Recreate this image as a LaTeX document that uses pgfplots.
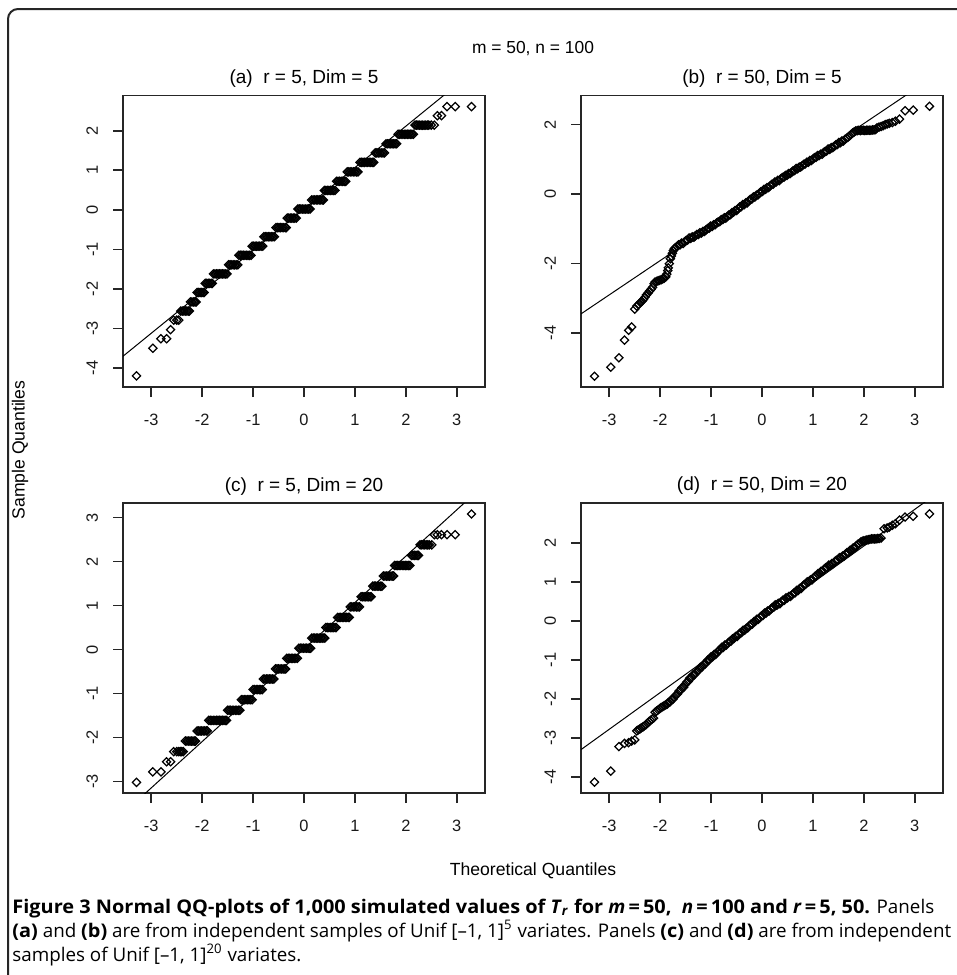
\documentclass[border=0pt]{standalone}
\usepackage{fontspec}
\setmainfont{Liberation Sans}
\newfontfamily\capfont{Open Sans}[BoldFeatures={FakeStretch=1.06}]
\usepackage{pgfplots}
\pgfplotsset{compat=1.18}
\pgfplotsset{
  qq/.style={
    scale only axis, width=181pt, anchor=south west,
    xmin=-3.555, xmax=3.555,
    xtick={-3,...,3}, xticklabels={-3,-2,-1,0,1,2,3},
    tick pos=left, tick align=outside,
    major tick length=5pt,
    axis line style={line width=0.8pt, black!85},
    tick style={line width=0.8pt, black!85},
    tick label style={font=\fontsize{8.2}{9}\selectfont, black!90},
    xticklabel style={yshift=-5pt},
    yticklabel style={xshift=-4pt, rotate=90, anchor=south},
    title style={at={(0.5,1)}, anchor=base, yshift=0pt, font=\fontsize{9.5}{11}\selectfont},
  },
  pts/.style={only marks, mark=square, mark size=1.45pt, black, mark options={rotate=45, line width=0.62pt}},
  qline/.style={black, line width=0.5pt, no marks},
}
\begin{document}
\begin{tikzpicture}
\begin{scope}[x=0.5pt,y=-0.5pt]
\path[use as bounding box] (0,0) rectangle (957,975);
\draw[line width=1pt, black!85, rounded corners=5pt] (8,975) -- (8,9) -- (957,9);
\node[font=\fontsize{8.7}{10}\selectfont, anchor=base] at (533,53) {m = 50, n = 100};
\node[font=\fontsize{8.8}{10}\selectfont, rotate=90] at (20,450) {Sample Quantiles};
\node[font=\fontsize{8.8}{10}\selectfont, anchor=base] at (533,875) {Theoretical Quantiles};
\node[font=\capfont\fontsize{9.4}{10}\selectfont, anchor=base west, inner sep=0pt] at (12,913)
  {\textbf{Figure 3 Normal QQ-plots of 1,000 simulated values of \textit{T}\textsubscript{\textit{r}} for \textit{m}\,=\,50,~ \textit{n}\,=\,100 and \textit{r}\,=\,5, 50.} Panels};
\node[font=\capfont\fontsize{9.4}{10}\selectfont, anchor=base west, inner sep=0pt] at (12,937)
  {\textbf{(a)} and \textbf{(b)} are from independent samples of Unif [\textendash1, 1]\textsuperscript{5} variates. Panels \textbf{(c)} and \textbf{(d)} are from independent};
\node[font=\capfont\fontsize{9.4}{10}\selectfont, anchor=base west, inner sep=0pt] at (12,961)
  {samples of Unif [\textendash1, 1]\textsuperscript{20} variates.};
\end{scope}

% ---------------- (a)
\begin{axis}[qq, at={(61.5pt,-193.5pt)}, height=145.75pt, ymin=-4.48, ymax=2.89,
  ytick={-4,...,2}, yticklabels={-4,-3,-2,-1,0,1,2}, title={(a)\ \ r = 5, Dim = 5}]
\addplot[pts] coordinates {
(-3.29,-4.20) (-2.97,-3.50) (-2.81,-3.26) (-2.70,-3.26) (-2.62,-3.03)
(-2.56,-2.79) (-2.50,-2.79) (-2.46,-2.79)
(-2.42,-2.56) (-2.39,-2.56) (-2.36,-2.56) (-2.33,-2.56) (-2.30,-2.56) (-2.27,-2.56) (-2.25,-2.56)
(-2.23,-2.33) (-2.20,-2.33) (-2.17,-2.33) (-2.14,-2.33) (-2.12,-2.33)
(-2.10,-2.09) (-2.07,-2.09) (-2.04,-2.09) (-2.01,-2.09) (-1.98,-2.09) (-1.96,-2.09)
(-1.94,-1.86) (-1.91,-1.86) (-1.88,-1.86) (-1.85,-1.86) (-1.82,-1.86) (-1.80,-1.86)
(-1.78,-1.62) (-1.75,-1.62) (-1.72,-1.62) (-1.69,-1.62) (-1.66,-1.62) (-1.63,-1.62) (-1.60,-1.62) (-1.57,-1.62) (-1.54,-1.62) (-1.51,-1.62)
(-1.48,-1.39) (-1.45,-1.39) (-1.42,-1.39) (-1.39,-1.39) (-1.36,-1.39) (-1.33,-1.39) (-1.30,-1.39)
(-1.28,-1.15) (-1.25,-1.15) (-1.22,-1.15) (-1.19,-1.15) (-1.16,-1.15) (-1.13,-1.15) (-1.10,-1.15) (-1.07,-1.15) (-1.04,-1.15)
(-1.02,-0.92) (-0.99,-0.92) (-0.96,-0.92) (-0.93,-0.92) (-0.90,-0.92) (-0.87,-0.92) (-0.84,-0.92) (-0.81,-0.92)
(-0.79,-0.68) (-0.76,-0.68) (-0.73,-0.68) (-0.70,-0.68) (-0.67,-0.68) (-0.64,-0.68) (-0.61,-0.68) (-0.58,-0.68)
(-0.55,-0.45) (-0.52,-0.45) (-0.49,-0.45) (-0.46,-0.45) (-0.43,-0.45) (-0.40,-0.45) (-0.37,-0.45) (-0.35,-0.45)
(-0.33,-0.21) (-0.30,-0.21) (-0.27,-0.21) (-0.24,-0.21) (-0.21,-0.21) (-0.18,-0.21) (-0.15,-0.21)
(-0.12,0.02) (-0.09,0.02) (-0.06,0.02) (-0.03,0.02) (0,0.02) (0.03,0.02) (0.06,0.02) (0.09,0.02) (0.12,0.02)
(0.15,0.25) (0.18,0.25) (0.21,0.25) (0.24,0.25) (0.27,0.25) (0.30,0.25) (0.33,0.25) (0.36,0.25) (0.38,0.25)
(0.40,0.49) (0.43,0.49) (0.46,0.49) (0.49,0.49) (0.52,0.49) (0.55,0.49) (0.58,0.49) (0.61,0.49)
(0.64,0.72) (0.67,0.72) (0.70,0.72) (0.73,0.72) (0.76,0.72) (0.79,0.72) (0.82,0.72)
(0.85,0.96) (0.88,0.96) (0.91,0.96) (0.94,0.96) (0.97,0.96) (1.00,0.96) (1.03,0.96) (1.06,0.96)
(1.10,1.20) (1.13,1.20) (1.16,1.20) (1.19,1.20) (1.22,1.20) (1.25,1.20) (1.28,1.20) (1.31,1.20) (1.34,1.20) (1.37,1.20)
(1.40,1.44) (1.43,1.44) (1.46,1.44) (1.49,1.44) (1.52,1.44) (1.55,1.44) (1.58,1.44)
(1.61,1.67) (1.64,1.67) (1.67,1.67) (1.70,1.67) (1.73,1.67) (1.76,1.67) (1.79,1.67) (1.82,1.67)
(1.85,1.91) (1.88,1.91) (1.91,1.91) (1.94,1.91) (1.97,1.91) (2.00,1.91) (2.03,1.91) (2.06,1.91) (2.09,1.91) (2.12,1.91) (2.15,1.91)
(2.18,2.14) (2.21,2.14) (2.24,2.14) (2.27,2.14) (2.30,2.14) (2.33,2.14) (2.36,2.14) (2.39,2.14) (2.42,2.14) (2.45,2.14) (2.50,2.14) (2.56,2.14)
(2.62,2.38) (2.70,2.38) (2.81,2.61) (2.97,2.61) (3.29,2.61)
};
\addplot[qline] coordinates {(-4,-4.168) (4,4.208)};
\end{axis}

% ---------------- (b)
\begin{axis}[qq, at={(290.5pt,-193.5pt)}, height=145.75pt, ymin=-5.55, ymax=2.84,
  ytick={-4,-2,0,2}, yticklabels={-4,-2,0,2}, title={(b)\ \ r = 50, Dim = 5}]
\addplot[pts] coordinates {
(-3.29,-5.24) (-2.97,-4.98) (-2.81,-4.71) (-2.70,-4.20) (-2.62,-3.92) (-2.56,-3.82) (-2.50,-3.31)
(-2.46,-3.22) (-2.42,-3.17) (-2.39,-3.12) (-2.36,-3.08) (-2.33,-3.03) (-2.30,-2.97) (-2.27,-2.90)
(-2.24,-2.85) (-2.21,-2.79) (-2.18,-2.74) (-2.15,-2.68) (-2.12,-2.58) (-2.10,-2.53) (-2.07,-2.51)
(-2.04,-2.49) (-2.01,-2.48) (-1.98,-2.46) (-1.95,-2.44) (-1.92,-2.42) (-1.89,-2.38) (-1.87,-2.30)
(-1.85,-2.20) (-1.84,-2.12) (-1.82,-2.00) (-1.80,-1.86) (-1.78,-1.78) (-1.76,-1.70) (-1.74,-1.62)
(-1.72,-1.57) (-1.70,-1.54) (-1.67,-1.51)
(-1.64,-1.46) (-1.61,-1.46) (-1.58,-1.41) (-1.55,-1.42) (-1.52,-1.37) (-1.49,-1.33) (-1.46,-1.32)
(-1.43,-1.26) (-1.40,-1.27) (-1.37,-1.23) (-1.34,-1.24) (-1.31,-1.20) (-1.28,-1.16) (-1.25,-1.16)
(-1.22,-1.11) (-1.19,-1.12) (-1.16,-1.07) (-1.13,-1.07) (-1.10,-1.03) (-1.07,-0.99) (-1.04,-0.98)
(-1.01,-0.92) (-0.98,-0.93) (-0.95,-0.88) (-0.92,-0.88) (-0.89,-0.83) (-0.86,-0.80) (-0.83,-0.79)
(-0.80,-0.73) (-0.77,-0.73) (-0.74,-0.68) (-0.71,-0.69) (-0.68,-0.64) (-0.65,-0.60) (-0.62,-0.59)
(-0.59,-0.53) (-0.56,-0.52) (-0.53,-0.47) (-0.50,-0.47) (-0.47,-0.42) (-0.44,-0.37) (-0.41,-0.36)
(-0.38,-0.30) (-0.35,-0.30) (-0.32,-0.25) (-0.29,-0.25) (-0.26,-0.19) (-0.23,-0.15) (-0.20,-0.14)
(-0.17,-0.08) (-0.14,-0.08) (-0.11,-0.03) (-0.08,-0.02) (-0.05,0.03) (-0.02,0.07) (0.01,0.08)
(0.04,0.14) (0.07,0.14) (0.10,0.19) (0.13,0.19) (0.16,0.24) (0.19,0.28) (0.22,0.29)
(0.25,0.35) (0.28,0.35) (0.31,0.40) (0.34,0.39) (0.37,0.44) (0.40,0.48) (0.43,0.49)
(0.46,0.54) (0.49,0.54) (0.52,0.59) (0.55,0.59) (0.58,0.63) (0.61,0.67) (0.64,0.68)
(0.67,0.74) (0.70,0.73) (0.73,0.78) (0.76,0.78) (0.79,0.82) (0.82,0.86) (0.85,0.87)
(0.88,0.92) (0.91,0.92) (0.94,0.97) (0.97,0.97) (1.00,1.01) (1.03,1.05) (1.06,1.06)
(1.09,1.11) (1.12,1.11) (1.15,1.15) (1.18,1.15) (1.21,1.20) (1.24,1.23) (1.27,1.24)
(1.30,1.30) (1.33,1.29) (1.36,1.34) (1.39,1.34) (1.42,1.38) (1.45,1.42) (1.48,1.43)
(1.51,1.49) (1.54,1.48) (1.57,1.53) (1.60,1.53) (1.63,1.58) (1.66,1.61)
(1.69,1.64) (1.72,1.68) (1.75,1.72) (1.78,1.76) (1.81,1.79) (1.84,1.82)
(1.87,1.83) (1.90,1.84) (1.93,1.83) (1.96,1.84) (1.99,1.84) (2.02,1.83) (2.05,1.84)
(2.08,1.84) (2.11,1.84) (2.14,1.84) (2.17,1.85) (2.20,1.85) (2.23,1.86)
(2.26,1.91) (2.30,1.93) (2.34,1.95) (2.38,1.97) (2.42,2.00) (2.46,2.02) (2.50,2.04)
(2.56,2.06) (2.62,2.10) (2.70,2.16) (2.81,2.40) (2.97,2.42) (3.29,2.53)
};
\addplot[qline] coordinates {(-4,-3.884) (4,4.004)};
\end{axis}

% ---------------- (c)
\begin{axis}[qq, at={(61.5pt,-396.5pt)}, height=145pt, ymin=-3.26, ymax=3.33,
  ytick={-3,...,3}, yticklabels={-3,-2,-1,0,1,2,3}, title={(c)\ \ r = 5, Dim = 20}]
\addplot[pts] coordinates {
(-3.29,-3.02) (-2.97,-2.78) (-2.81,-2.78) (-2.70,-2.55) (-2.62,-2.55)
(-2.56,-2.32) (-2.50,-2.32) (-2.46,-2.32) (-2.43,-2.32) (-2.40,-2.32) (-2.37,-2.32)
(-2.33,-2.08) (-2.30,-2.08) (-2.27,-2.08) (-2.24,-2.08) (-2.21,-2.08) (-2.18,-2.08) (-2.15,-2.08) (-2.13,-2.08)
(-2.10,-1.85) (-2.07,-1.85) (-2.04,-1.85) (-2.01,-1.85) (-1.98,-1.85) (-1.95,-1.85) (-1.92,-1.85) (-1.90,-1.85)
(-1.87,-1.61) (-1.84,-1.61) (-1.81,-1.61) (-1.78,-1.61) (-1.75,-1.61) (-1.72,-1.61) (-1.69,-1.61) (-1.66,-1.61) (-1.63,-1.61) (-1.60,-1.61) (-1.57,-1.61) (-1.54,-1.61) (-1.52,-1.61)
(-1.50,-1.38) (-1.47,-1.38) (-1.44,-1.38) (-1.41,-1.38) (-1.38,-1.38) (-1.35,-1.38) (-1.32,-1.38) (-1.29,-1.38) (-1.26,-1.38)
(-1.23,-1.14) (-1.20,-1.14) (-1.17,-1.14) (-1.14,-1.14) (-1.11,-1.14) (-1.08,-1.14) (-1.05,-1.14) (-1.02,-1.14)
(-1.00,-0.91) (-0.97,-0.91) (-0.94,-0.91) (-0.91,-0.91) (-0.88,-0.91) (-0.85,-0.91) (-0.82,-0.91)
(-0.80,-0.67) (-0.77,-0.67) (-0.74,-0.67) (-0.71,-0.67) (-0.68,-0.67) (-0.65,-0.67) (-0.62,-0.67) (-0.59,-0.67)
(-0.56,-0.44) (-0.53,-0.44) (-0.50,-0.44) (-0.47,-0.44) (-0.44,-0.44) (-0.41,-0.44) (-0.38,-0.44) (-0.36,-0.44)
(-0.34,-0.20) (-0.31,-0.20) (-0.28,-0.20) (-0.25,-0.20) (-0.22,-0.20) (-0.19,-0.20) (-0.16,-0.20) (-0.13,-0.20)
(-0.10,0.03) (-0.07,0.03) (-0.04,0.03) (-0.01,0.03) (0.02,0.03) (0.05,0.03) (0.08,0.03) (0.11,0.03) (0.13,0.03)
(0.15,0.26) (0.18,0.26) (0.21,0.26) (0.24,0.26) (0.27,0.26) (0.30,0.26) (0.33,0.26) (0.36,0.26) (0.39,0.26) (0.41,0.26)
(0.43,0.50) (0.46,0.50) (0.49,0.50) (0.52,0.50) (0.55,0.50) (0.58,0.50) (0.61,0.50) (0.63,0.50)
(0.66,0.73) (0.69,0.73) (0.72,0.73) (0.75,0.73) (0.78,0.73) (0.81,0.73) (0.84,0.73) (0.87,0.73) (0.89,0.73)
(0.91,0.97) (0.94,0.97) (0.97,0.97) (1.00,0.97) (1.03,0.97) (1.06,0.97) (1.09,0.97)
(1.12,1.20) (1.15,1.20) (1.18,1.20) (1.21,1.20) (1.24,1.20) (1.27,1.20) (1.30,1.20) (1.32,1.20)
(1.35,1.44) (1.38,1.44) (1.41,1.44) (1.44,1.44) (1.47,1.44) (1.50,1.44) (1.53,1.44)
(1.56,1.67) (1.59,1.67) (1.62,1.67) (1.65,1.67) (1.68,1.67) (1.71,1.67) (1.74,1.67) (1.76,1.67)
(1.78,1.91) (1.81,1.91) (1.84,1.91) (1.87,1.91) (1.90,1.91) (1.93,1.91) (1.96,1.91) (1.99,1.91) (2.02,1.91) (2.05,1.91) (2.08,1.91)
(2.11,2.14) (2.14,2.14) (2.17,2.14) (2.20,2.14) (2.23,2.14) (2.25,2.14)
(2.28,2.38) (2.31,2.38) (2.34,2.38) (2.37,2.38) (2.40,2.38) (2.43,2.38) (2.46,2.38) (2.51,2.38)
(2.56,2.61) (2.62,2.61) (2.70,2.61) (2.81,2.61) (2.97,2.61) (3.29,3.08)
};
\addplot[qline] coordinates {(-4,-4.197) (4,4.227)};
\end{axis}

% ---------------- (d)
\begin{axis}[qq, at={(290.5pt,-396.5pt)}, height=145pt, ymin=-4.41, ymax=3.02,
  ytick={-4,...,2}, yticklabels={-4,-3,-2,-1,0,1,2}, title={(d)\ \ r = 50, Dim = 20}]
\addplot[pts] coordinates {
(-3.29,-4.13) (-2.97,-3.85) (-2.81,-3.22) (-2.70,-3.14) (-2.62,-3.12) (-2.56,-3.08) (-2.50,-3.05)
(-2.46,-2.82) (-2.43,-2.79) (-2.40,-2.77) (-2.37,-2.74) (-2.34,-2.72) (-2.31,-2.69) (-2.28,-2.66)
(-2.25,-2.62) (-2.22,-2.58) (-2.19,-2.55) (-2.16,-2.52) (-2.13,-2.49) (-2.10,-2.34) (-2.07,-2.31)
(-2.04,-2.28) (-2.01,-2.25) (-1.98,-2.22) (-1.95,-2.20) (-1.92,-2.17) (-1.89,-2.15) (-1.86,-2.13)
(-1.84,-2.09) (-1.81,-2.08) (-1.78,-2.02) (-1.75,-2.01) (-1.72,-1.95) (-1.69,-1.90) (-1.66,-1.87)
(-1.63,-1.80) (-1.60,-1.78) (-1.57,-1.71) (-1.54,-1.70) (-1.51,-1.63) (-1.48,-1.57) (-1.45,-1.55)
(-1.42,-1.47) (-1.39,-1.46) (-1.36,-1.39) (-1.33,-1.38) (-1.30,-1.33) (-1.27,-1.28) (-1.24,-1.26)
(-1.21,-1.19) (-1.18,-1.18) (-1.15,-1.12) (-1.12,-1.11) (-1.09,-1.05) (-1.06,-1.00) (-1.03,-0.99)
(-1.00,-0.92) (-0.97,-0.92) (-0.94,-0.86) (-0.91,-0.86) (-0.88,-0.80) (-0.85,-0.76) (-0.82,-0.74)
(-0.79,-0.68) (-0.76,-0.68) (-0.73,-0.62) (-0.70,-0.62) (-0.67,-0.57) (-0.64,-0.53) (-0.61,-0.52)
(-0.58,-0.46) (-0.55,-0.45) (-0.52,-0.40) (-0.49,-0.40) (-0.46,-0.35) (-0.43,-0.31) (-0.40,-0.30)
(-0.37,-0.24) (-0.34,-0.24) (-0.31,-0.19) (-0.28,-0.18) (-0.25,-0.13) (-0.22,-0.09) (-0.19,-0.08)
(-0.16,-0.02) (-0.13,-0.01) (-0.10,0.04) (-0.07,0.04) (-0.04,0.09) (-0.01,0.13) (0.02,0.14)
(0.05,0.20) (0.08,0.20) (0.11,0.25) (0.14,0.25) (0.17,0.30) (0.20,0.34) (0.23,0.35)
(0.26,0.41) (0.29,0.40) (0.32,0.45) (0.35,0.44) (0.38,0.49) (0.41,0.53) (0.44,0.53)
(0.47,0.59) (0.50,0.59) (0.53,0.63) (0.56,0.63) (0.59,0.67) (0.62,0.71) (0.65,0.72)
(0.68,0.78) (0.71,0.78) (0.74,0.83) (0.77,0.83) (0.80,0.89) (0.83,0.93) (0.86,0.94)
(0.89,1.00) (0.92,1.00) (0.95,1.05) (0.98,1.05) (1.01,1.10) (1.04,1.14) (1.07,1.15)
(1.10,1.21) (1.13,1.22) (1.16,1.27) (1.19,1.27) (1.22,1.32) (1.25,1.36) (1.28,1.37)
(1.31,1.43) (1.34,1.42) (1.37,1.47) (1.40,1.47) (1.43,1.52) (1.46,1.55) (1.49,1.56)
(1.52,1.62) (1.55,1.62) (1.58,1.66) (1.61,1.66) (1.64,1.71) (1.67,1.75) (1.70,1.75)
(1.73,1.81) (1.76,1.81) (1.79,1.87) (1.82,1.87) (1.85,1.92) (1.88,1.96) (1.91,1.98)
(1.94,2.02) (1.97,2.04) (2.00,2.05) (2.03,2.06) (2.06,2.07) (2.09,2.08) (2.12,2.09)
(2.15,2.10) (2.18,2.10) (2.21,2.10) (2.24,2.10) (2.27,2.11) (2.30,2.11) (2.34,2.12)
(2.40,2.36) (2.46,2.38) (2.50,2.40) (2.56,2.45) (2.62,2.49) (2.70,2.58) (2.81,2.66) (2.97,2.68) (3.29,2.74)
};
\addplot[qline] coordinates {(-4,-3.716) (4,3.796)};
\end{axis}
\end{tikzpicture}
\end{document}
